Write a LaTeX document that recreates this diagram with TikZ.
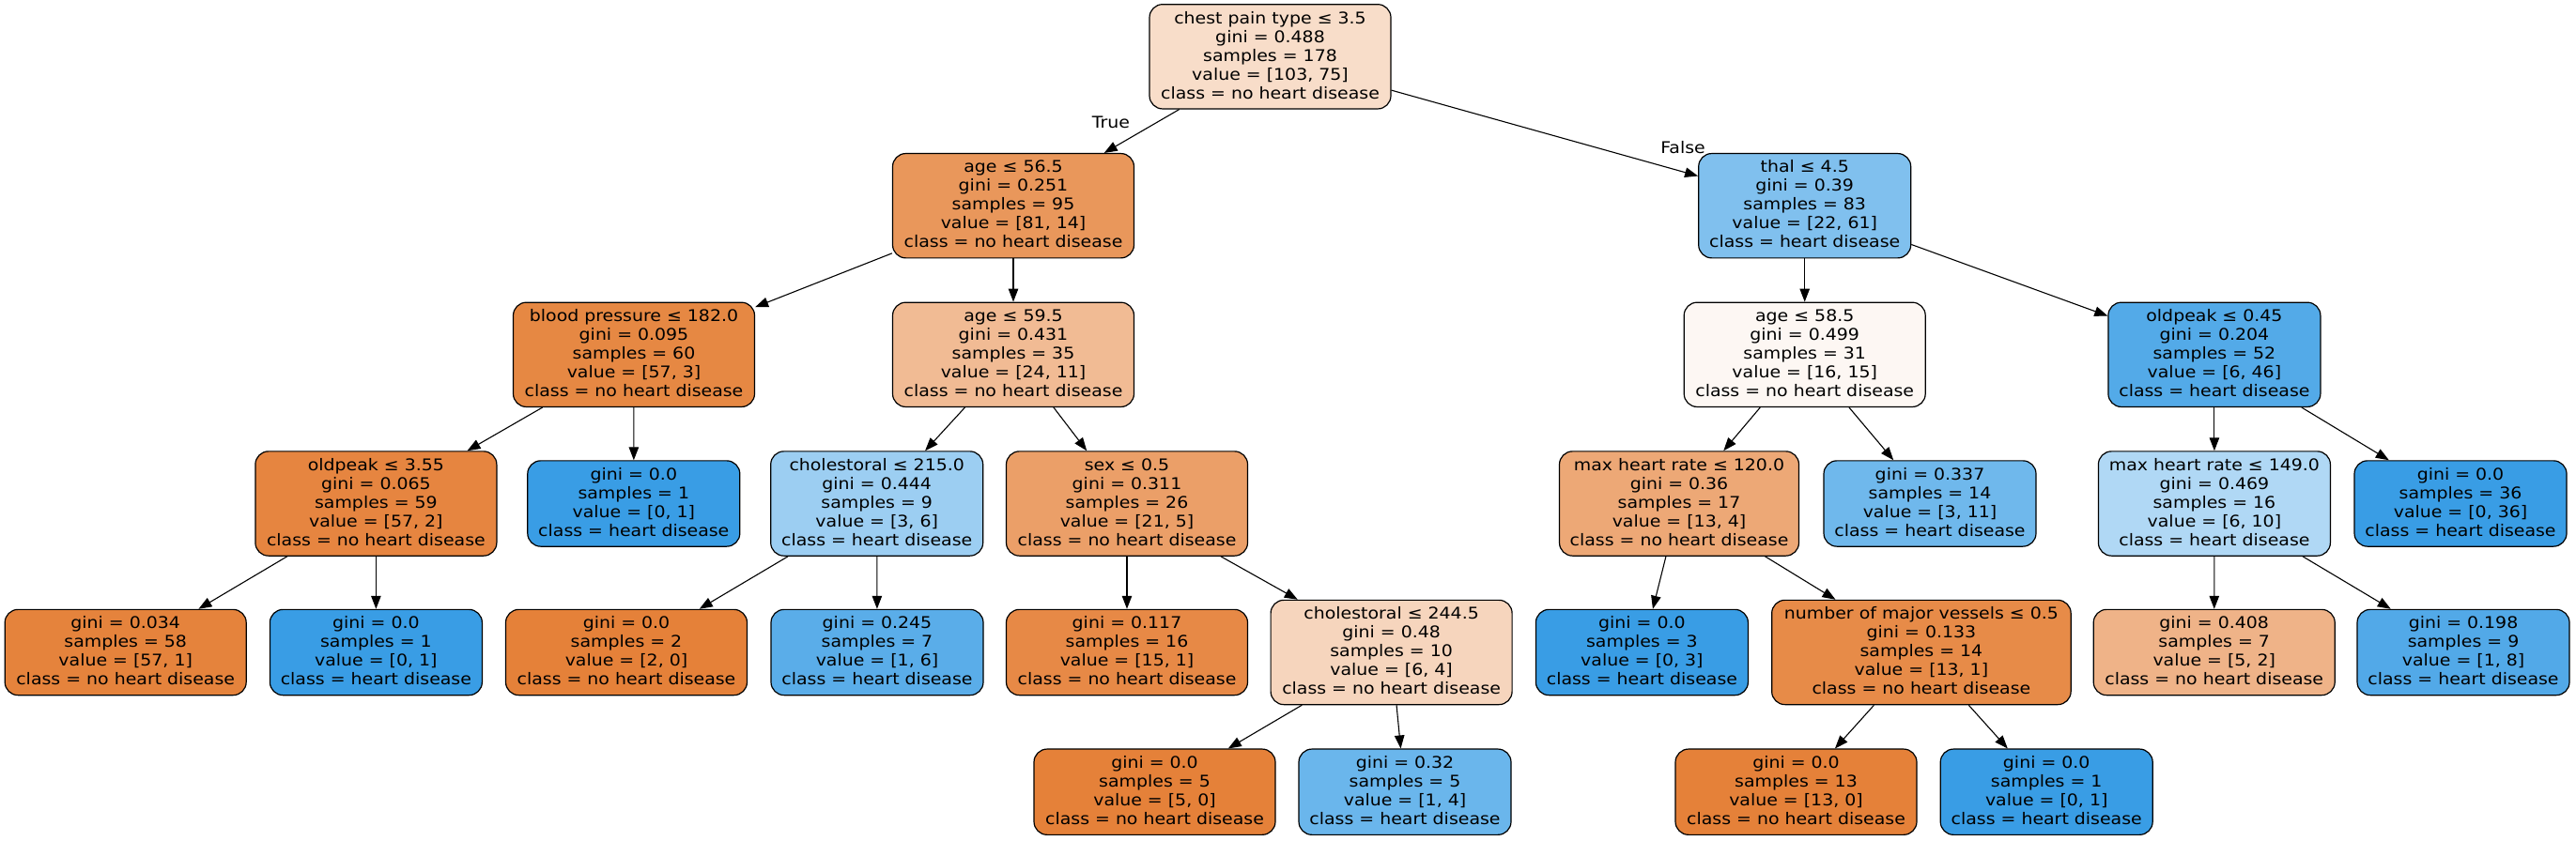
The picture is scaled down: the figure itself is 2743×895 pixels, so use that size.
\documentclass[tikz,border=0pt]{standalone}
\usepackage{fontspec}
\setmainfont{DejaVu Sans}[FakeStretch=1.10]
\usetikzlibrary{arrows.meta}
\definecolor{cRoot}{RGB}{248,221,201}
\definecolor{cA}{RGB}{233,151,91}
\definecolor{cThal}{RGB}{128,192,238}
\definecolor{cBP}{RGB}{230,136,67}
\definecolor{cAb}{RGB}{241,187,148}
\definecolor{cAc}{RGB}{253,247,243}
\definecolor{cOPa}{RGB}{83,170,232}
\definecolor{cOPb}{RGB}{230,133,64}
\definecolor{cBlue}{RGB}{57,157,229}
\definecolor{cOrange}{RGB}{229,129,57}
\definecolor{cChA}{RGB}{156,206,242}
\definecolor{cSex}{RGB}{235,159,104}
\definecolor{cMhrA}{RGB}{237,168,118}
\definecolor{cGa}{RGB}{111,184,236}
\definecolor{cMhrB}{RGB}{176,216,245}
\definecolor{cGb}{RGB}{229,131,60}
\definecolor{cGc}{RGB}{90,173,233}
\definecolor{cGd}{RGB}{231,137,70}
\definecolor{cChB}{RGB}{246,213,189}
\definecolor{cNmv}{RGB}{231,139,72}
\definecolor{cGe}{RGB}{239,179,136}
\definecolor{cGf}{RGB}{82,169,232}
\definecolor{cGg}{RGB}{106,182,236}
\newcommand{\mystrut}{\rule[-3.5pt]{0pt}{15.5pt}}
\tikzset{
  tn/.style={draw=black, line width=1.2pt, rounded corners=14pt, align=center,
    inner sep=0pt, font=\fontsize{17.2}{20}\selectfont, text=black,
    minimum height=111.3pt, minimum width=257pt,
    execute at begin node=\mystrut, execute at end node=\mystrut},
  leaf/.style={minimum height=91.3pt},
  nw/.style={minimum width=226pt},
  ed/.style={-{Triangle[length=14pt,width=10.5pt]}, line width=1.1pt, draw=black},
  lbl/.style={font=\fontsize{17.2}{20}\selectfont, inner sep=0pt, text=black}
}
\begin{document}
\begin{tikzpicture}[x=1pt,y=-1pt]
\fill[white] (0,0) rectangle (2743,895);
\useasboundingbox (0,0) rectangle (2743,895);
% level 0
\node[tn, fill=cRoot] (n0) at (1352.5,60.3) {chest pain type ≤ 3.5\\gini = 0.488\\samples = 178\\value = [103, 75]\\class = no heart disease};
% level 1
\node[tn, fill=cA] (n1) at (1079,219.2) {age ≤ 56.5\\gini = 0.251\\samples = 95\\value = [81, 14]\\class = no heart disease};
\node[tn, nw, fill=cThal] (n2) at (1921.7,219.2) {thal ≤ 4.5\\gini = 0.39\\samples = 83\\value = [22, 61]\\class = heart disease};
% level 2
\node[tn, fill=cBP] (n3) at (675,377.8) {blood pressure ≤ 182.0\\gini = 0.095\\samples = 60\\value = [57, 3]\\class = no heart disease};
\node[tn, fill=cAb] (n4) at (1079,377.8) {age ≤ 59.5\\gini = 0.431\\samples = 35\\value = [24, 11]\\class = no heart disease};
\node[tn, fill=cAc] (n17) at (1921.7,377.8) {age ≤ 58.5\\gini = 0.499\\samples = 31\\value = [16, 15]\\class = no heart disease};
\node[tn, nw, fill=cOPa] (n18) at (2357.9,377.8) {oldpeak ≤ 0.45\\gini = 0.204\\samples = 52\\value = [6, 46]\\class = heart disease};
% level 3
\node[tn, fill=cOPb] (n5) at (400.4,536.5) {oldpeak ≤ 3.55\\gini = 0.065\\samples = 59\\value = [57, 2]\\class = no heart disease};
\node[tn, nw, leaf, fill=cBlue] (n6) at (674.8,536.5) {gini = 0.0\\samples = 1\\value = [0, 1]\\class = heart disease};
\node[tn, nw, fill=cChA] (n9) at (933.7,536.5) {cholestoral ≤ 215.0\\gini = 0.444\\samples = 9\\value = [3, 6]\\class = heart disease};
\node[tn, fill=cSex] (n10) at (1200,536.5) {sex ≤ 0.5\\gini = 0.311\\samples = 26\\value = [21, 5]\\class = no heart disease};
\node[tn, minimum width=255pt, fill=cMhrA] (n19) at (1788,536.5) {max heart rate ≤ 120.0\\gini = 0.36\\samples = 17\\value = [13, 4]\\class = no heart disease};
\node[tn, nw, leaf, fill=cGa] (n20) at (2055,536.5) {gini = 0.337\\samples = 14\\value = [3, 11]\\class = heart disease};
\node[tn, minimum width=247pt, fill=cMhrB] (n25) at (2357.9,536.5) {max heart rate ≤ 149.0\\gini = 0.469\\samples = 16\\value = [6, 10]\\class = heart disease};
\node[tn, nw, leaf, fill=cBlue] (n26) at (2620,536.5) {gini = 0.0\\samples = 36\\value = [0, 36]\\class = heart disease};
% level 4
\node[tn, leaf, fill=cGb] (n7) at (133.7,695) {gini = 0.034\\samples = 58\\value = [57, 1]\\class = no heart disease};
\node[tn, nw, leaf, fill=cBlue] (n8) at (400.4,695) {gini = 0.0\\samples = 1\\value = [0, 1]\\class = heart disease};
\node[tn, leaf, fill=cOrange] (n11) at (667,695) {gini = 0.0\\samples = 2\\value = [2, 0]\\class = no heart disease};
\node[tn, nw, leaf, fill=cGc] (n12) at (934,695) {gini = 0.245\\samples = 7\\value = [1, 6]\\class = heart disease};
\node[tn, leaf, fill=cGd] (n13) at (1200,695) {gini = 0.117\\samples = 16\\value = [15, 1]\\class = no heart disease};
\node[tn, fill=cChB] (n14) at (1481.6,695) {cholestoral ≤ 244.5\\gini = 0.48\\samples = 10\\value = [6, 4]\\class = no heart disease};
\node[tn, nw, leaf, fill=cBlue] (n21) at (1748.4,695) {gini = 0.0\\samples = 3\\value = [0, 3]\\class = heart disease};
\node[tn, minimum width=318.5pt, fill=cNmv] (n22) at (2045.9,695) {number of major vessels ≤ 0.5\\gini = 0.133\\samples = 14\\value = [13, 1]\\class = no heart disease};
\node[tn, leaf, fill=cGe] (n27) at (2357.7,695) {gini = 0.408\\samples = 7\\value = [5, 2]\\class = no heart disease};
\node[tn, nw, leaf, fill=cGf] (n28) at (2623,695) {gini = 0.198\\samples = 9\\value = [1, 8]\\class = heart disease};
% level 5
\node[tn, leaf, fill=cOrange] (n15) at (1229.5,843.7) {gini = 0.0\\samples = 5\\value = [5, 0]\\class = no heart disease};
\node[tn, nw, leaf, fill=cGg] (n16) at (1496,843.7) {gini = 0.32\\samples = 5\\value = [1, 4]\\class = heart disease};
\node[tn, leaf, fill=cOrange] (n23) at (1912.5,843.7) {gini = 0.0\\samples = 13\\value = [13, 0]\\class = no heart disease};
\node[tn, nw, leaf, fill=cBlue] (n24) at (2179.2,843.7) {gini = 0.0\\samples = 1\\value = [0, 1]\\class = heart disease};
% edges
\draw[ed] (n0) -- (n1);
\draw[ed] (n0) -- (n2);
\draw[ed] (n1) -- (n3);
\draw[ed] (n1) -- (n4);
\draw[ed] (n3) -- (n5);
\draw[ed] (n3) -- (n6);
\draw[ed] (n5) -- (n7);
\draw[ed] (n5) -- (n8);
\draw[ed] (n4) -- (n9);
\draw[ed] (n4) -- (n10);
\draw[ed] (n9) -- (n11);
\draw[ed] (n9) -- (n12);
\draw[ed] (n10) -- (n13);
\draw[ed] (n10) -- (n14);
\draw[ed] (n14) -- (n15);
\draw[ed] (n14) -- (n16);
\draw[ed] (n2) -- (n17);
\draw[ed] (n2) -- (n18);
\draw[ed] (n17) -- (n19);
\draw[ed] (n17) -- (n20);
\draw[ed] (n19) -- (n21);
\draw[ed] (n19) -- (n22);
\draw[ed] (n22) -- (n23);
\draw[ed] (n22) -- (n24);
\draw[ed] (n18) -- (n25);
\draw[ed] (n18) -- (n26);
\draw[ed] (n25) -- (n27);
\draw[ed] (n25) -- (n28);
% edge labels
\node[lbl] (tl) at (1183,130) {True};
\node[lbl] (fl) at (1792,157) {False};
\end{tikzpicture}
\end{document}
